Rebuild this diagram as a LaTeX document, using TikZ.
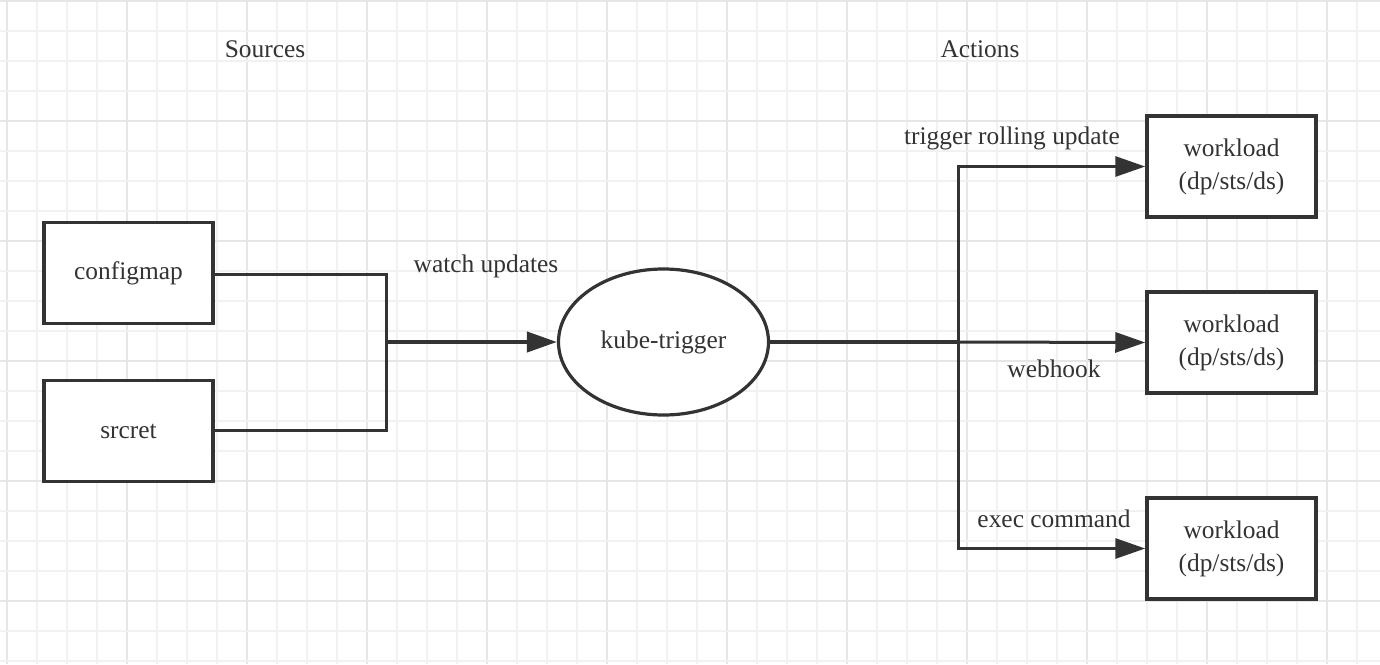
\documentclass[tikz,border=0pt]{standalone}
\usepackage{fontspec}
\setmainfont{Liberation Serif}
\usetikzlibrary{arrows.meta,shapes.geometric}
\definecolor{ink}{HTML}{333333}
\definecolor{gridminor}{HTML}{F1F1F1}
\definecolor{gridmajor}{HTML}{E6E6E6}
\begin{document}
\begin{tikzpicture}[x=0.5pt,y=-0.5pt,
  every node/.style={text=ink,font=\fontsize{12.7pt}{16pt}\selectfont},
  srcbox/.style={draw=ink,line width=1.75pt,minimum width=84.5pt,minimum height=50.5pt,inner sep=0pt,fill=white},
  wlbox/.style={draw=ink,line width=1.75pt,minimum width=84.5pt,minimum height=50.5pt,inner sep=0pt,fill=white,align=center,font=\fontsize{12.7pt}{16.5pt}\selectfont},
  hub/.style={draw=ink,line width=1.6pt,ellipse,minimum width=105pt,minimum height=73pt,inner sep=0pt,fill=white},
  thinconn/.style={draw=ink,line width=1.5pt},
  mainconn/.style={draw=ink,line width=2pt},
  tip/.style={-{Triangle[length=15pt,width=10pt]}},
  lbl/.style={anchor=base,inner sep=0pt}
]
\useasboundingbox (0,0) rectangle (1380,664);
\fill[white] (0,0) rectangle (1380,664);
% grid
\foreach \k in {0,...,45}{
  \pgfmathtruncatemacro{\m}{mod(\k,4)}
  \ifnum\m=0
    \draw[gridmajor,line width=1.1pt] ({7+30*\k},0) -- ({7+30*\k},664);
  \else
    \draw[gridminor,line width=1pt] ({7+30*\k},0) -- ({7+30*\k},664);
  \fi
}
\foreach \k in {0,...,22}{
  \pgfmathtruncatemacro{\m}{mod(\k,4)}
  \ifnum\m=0
    \draw[gridmajor,line width=1.1pt] (0,{1+30*\k}) -- (1380,{1+30*\k});
  \else
    \draw[gridminor,line width=1pt] (0,{1+30*\k}) -- (1380,{1+30*\k});
  \fi
}
% headings
\node[lbl] (sources) at (265,57) {Sources};
\node[lbl] (actions) at (980,57) {Actions};
% nodes
\node[srcbox] (cm) at (128.5,273) {configmap};
\node[srcbox] (sc) at (128.5,431) {srcret};
\node[hub] (kt) at (663.5,342) {kube-trigger};
\node[wlbox] (w1) at (1231.5,166.5) {workload\\(dp/sts/ds)};
\node[wlbox] (w2) at (1231.5,342.5) {workload\\(dp/sts/ds)};
\node[wlbox] (w3) at (1231.5,548.5) {workload\\(dp/sts/ds)};
% junctions
\coordinate (jl) at (386,342);
\coordinate (jr) at (958,342);
% connectors
\draw[thinconn] (cm.east |- 0,274) -| (jl);
\draw[thinconn] (sc.east |- 0,430) -| (jl);
\draw[mainconn,tip] (jl) -- (kt.west);
\draw[mainconn] (kt.east) -- (jr);
\draw[thinconn,tip] (jr) -- (w2.west);
\draw[thinconn,tip] (jr) |- (w1.west);
\draw[thinconn,tip] (jr) |- (w3.west);
% labels
\node[lbl] (lwatch) at (486,272) {watch updates};
\node[lbl] (ltrig) at (1012,144) {trigger rolling update};
\node[lbl] (lhook) at (1054,377) {webhook};
\node[lbl] (lexec) at (1054,527) {exec command};
\end{tikzpicture}
\end{document}
